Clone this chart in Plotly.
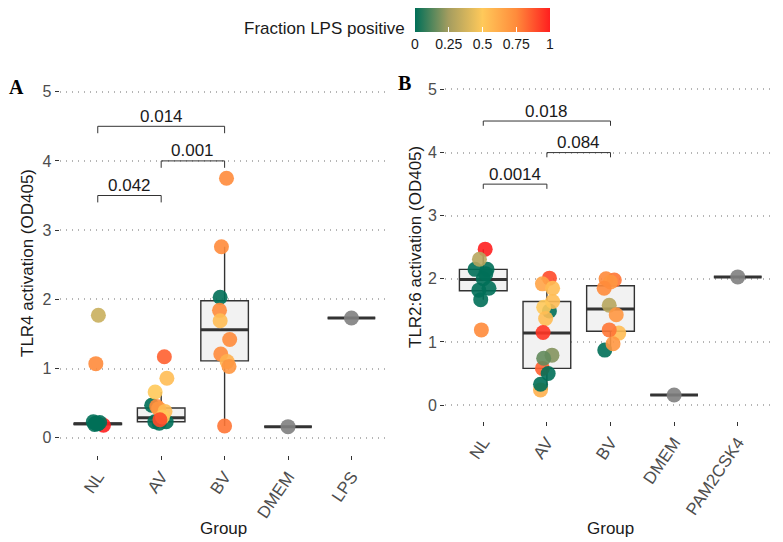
import plotly.graph_objects as go

# categories
groups_a = ["NL", "AV", "BV", "DMEM", "LPS"]
groups_b = ["NL", "AV", "BV", "DMEM", "PAM2CSK4"]

# panel A samples: group index, TLR4 activation, fraction LPS positive, jitter
a_grp = [0, 0, 0, 0, 0, 0, 0, 0,
         1, 1, 1, 1, 1, 1, 1, 1, 1, 1, 1, 1,
         2, 2, 2, 2, 2, 2, 2, 2, 2, 2]
a_val = [1.77, 1.07, 0.18, 0.23, 0.21, 0.20, 0.22, 0.19,
         0.47, 0.23, 0.23, 0.21, 1.17, 0.86, 0.66, 0.45, 0.42, 0.38, 0.30, 0.26,
         0.17, 2.03, 3.75, 2.76, 1.84, 1.69, 1.42, 1.21, 1.10, 1.03]
a_frac = [0.35, 0.75, 1.0, 0.0, 0.0, 0.0, 0.0, 0.0,
          0.0, 0.0, 0.0, 0.0, 0.85, 0.55, 0.5, 0.75, 0.7, 0.55, 0.5, 0.9,
          0.8, 0.0, 0.75, 0.75, 0.75, 0.55, 0.75, 0.75, 0.6, 0.7]
a_jit = [0.01, -0.03, 0.09, -0.07, -0.03, 0.0, 0.03, -0.05,
         -0.15, -0.1, 0.08, -0.03, 0.05, 0.09, -0.095, -0.07, -0.04, 0.06, 0.02, -0.02,
         0.0, -0.07, 0.03, -0.05, -0.08, -0.07, 0.08, -0.06, 0.04, 0.07]
a_ctrl_grp = [3, 4]
a_ctrl_val = [0.16, 1.73]

# panel A box statistics
a_q1 = [0.19, 0.23, 1.11, 0.16, 1.73]
a_med = [0.20, 0.29, 1.56, 0.16, 1.73]
a_q3 = [0.21, 0.43, 1.98, 0.16, 1.73]
a_lo = [0.18, 0.20, 0.17, 0.16, 1.73]
a_hi = [0.23, 0.66, 2.76, 0.16, 1.73]

# panel B samples: group index, TLR2:6 activation, fraction LPS positive, jitter
b_grp = [0, 0, 0, 0, 0, 0, 0, 0, 0, 0,
         1, 1, 1, 1, 1, 1, 1, 1, 1, 1, 1, 1, 1, 1,
         2, 2, 2, 2, 2, 2, 2, 2, 2, 2]
b_val = [2.47, 2.15, 2.15, 2.00, 1.85, 1.82, 1.67, 2.08, 2.31, 1.19,
         0.24, 0.58, 1.49, 2.01, 1.92, 1.85, 1.64, 1.55, 1.37, 1.15, 0.79, 0.74, 0.50, 0.33,
         0.87, 2.00, 1.98, 1.95, 1.85, 1.58, 1.43, 1.14, 1.19, 0.97]
b_frac = [1.0, 0.0, 0.0, 0.0, 0.0, 0.0, 0.0, 0.0, 0.3, 0.75,
          0.6, 0.85, 0.0, 0.9, 0.65, 0.55, 0.55, 0.5, 0.55, 0.95, 0.2, 0.15, 0.0, 0.0,
          0.0, 0.75, 0.8, 0.7, 0.75, 0.3, 0.7, 0.55, 0.8, 0.7]
b_jit = [0.03, -0.13, 0.06, 0.0, 0.09, -0.07, -0.04, 0.04, -0.06, -0.03,
         -0.1, -0.07, 0.04, 0.04, -0.07, 0.09, 0.09, -0.05, -0.02, -0.06, 0.08, -0.05, 0.02, -0.1,
         -0.09, -0.07, 0.06, 0.0, -0.1, -0.02, 0.09, 0.13, -0.02, 0.04]
b_ctrl_grp = [3, 4]
b_ctrl_val = [0.16, 2.03]

# panel B box statistics
b_q1 = [1.81, 0.58, 1.17, 0.16, 2.03]
b_med = [1.99, 1.14, 1.52, 0.16, 2.03]
b_q3 = [2.15, 1.64, 1.89, 0.16, 2.03]
b_lo = [1.67, 0.24, 0.87, 0.16, 2.03]
b_hi = [2.47, 2.01, 2.01, 0.16, 2.03]

# significance brackets
pairs = [(0, 1), (1, 2), (0, 2)]
a_br_y = [3.5, 4.0, 4.5]
a_p = ["0.042", "0.001", "0.014"]
b_br_y = [3.5, 4.0, 4.5]
b_p = ["0.0014", "0.084", "0.018"]

colorscale = [[0.0, "#006F58"], [0.25, "#A59D5F"], [0.5, "#FFC95A"],
              [0.75, "#FF8B3B"], [1.0, "#FF1F1F"]]

DARK = "#333333"
FONT = "Liberation Sans"

# the page body has an 8px margin, so the figure is drawn 8px in from the corner
W, H, OFF = 775, 534, 8


def px(x):
    return (x - OFF) / W


def py(y):
    return 1 - (y - OFF) / H


fig = go.Figure()


def add_panel(xa, ya, grp, val, frac, jit, cgrp, cval, q1, med, q3, lo, hi, br_y, plabels, tip):
    xs = list(range(len(q1)))
    fig.add_trace(go.Box(
        x=xs, q1=q1, median=med, q3=q3, lowerfence=lo, upperfence=hi,
        width=0.75, whiskerwidth=0, fillcolor="#F2F2F2",
        line=dict(color=DARK, width=1.4), xaxis=xa, yaxis=ya, hoverinfo="skip"))
    # thicker median bar like ggplot
    mx, my = [], []
    for i, m in zip(xs, med):
        mx += [i - 0.375, i + 0.375, None]
        my += [m, m, None]
    fig.add_trace(go.Scatter(x=mx, y=my, mode="lines", line=dict(color=DARK, width=3),
                             xaxis=xa, yaxis=ya))
    fig.add_trace(go.Scatter(x=cgrp, y=cval, mode="markers",
                             marker=dict(size=15, color="#7F7F7F", opacity=0.9),
                             xaxis=xa, yaxis=ya))
    fig.add_trace(go.Scatter(
        x=[g + j for g, j in zip(grp, jit)], y=val, mode="markers",
        marker=dict(size=15, color=frac, coloraxis="coloraxis", opacity=0.9),
        xaxis=xa, yaxis=ya))
    for (i, j), y, p in zip(pairs, br_y, plabels):
        fig.add_trace(go.Scatter(x=[i, i, j, j], y=[y - tip, y, y, y - tip], mode="lines",
                                 line=dict(color=DARK, width=1), xaxis=xa, yaxis=ya))
        fig.add_annotation(x=(i + j) / 2, y=y, xref=xa, yref=ya, text=p,
                           showarrow=False, xanchor="center", yanchor="middle", yshift=10,
                           font=dict(family=FONT, size=17, color="#1A1A1A"))


add_panel("x", "y", a_grp, a_val, a_frac, a_jit, a_ctrl_grp, a_ctrl_val,
          a_q1, a_med, a_q3, a_lo, a_hi, a_br_y, a_p, 0.1)
add_panel("x2", "y2", b_grp, b_val, b_frac, b_jit, b_ctrl_grp, b_ctrl_val,
          b_q1, b_med, b_q3, b_lo, b_hi, b_br_y, b_p, 0.075)

xcommon = dict(range=[-0.6, 4.6], tickvals=[0, 1, 2, 3, 4], tickangle=-56,
               ticks="outside", ticklen=4, tickcolor=DARK, showgrid=False,
               zeroline=False, showline=False,
               tickfont=dict(family=FONT, size=17, color="#4D4D4D"))
ycommon = dict(range=[-0.25, 5.25], tickvals=[0, 1, 2, 3, 4, 5], ticks="outside",
               ticklen=4, tickcolor=DARK, showgrid=True, gridcolor="#B5B5B5",
               griddash="1px,5px", gridwidth=1.5, zeroline=False, showline=False,
               tickfont=dict(family=FONT, size=16, color="#4D4D4D"))

fig.update_layout(
    width=W, height=H,
    margin=dict(l=0, r=0, t=0, b=0, autoexpand=False),
    paper_bgcolor="white", plot_bgcolor="white",
    showlegend=False,
    font=dict(family=FONT, color="#1A1A1A"),
    xaxis=dict(domain=[px(59.7), px(389.5)], anchor="y", ticktext=groups_a, **xcommon),
    yaxis=dict(domain=[py(455), py(74.4)], anchor="x", **ycommon),
    xaxis2=dict(domain=[px(445.1), px(775.9)], anchor="y2", ticktext=groups_b, **xcommon),
    yaxis2=dict(domain=[py(420.8), py(73.7)], anchor="x2", **ycommon),
    coloraxis=dict(
        colorscale=colorscale, cmin=0, cmax=1,
        colorbar=dict(
            orientation="h", x=px(482.5), xanchor="center", y=py(8), yanchor="top",
            lenmode="pixels", len=135, thicknessmode="pixels", thickness=24,
            xpad=0, ypad=0, outlinewidth=0,
            tickvals=[0, 0.25, 0.5, 0.75, 1], ticktext=["0", "0.25", "0.5", "0.75", "1"],
            ticks="inside", ticklen=5, tickcolor="white",
            tickfont=dict(family=FONT, size=14, color="#1A1A1A"))),
)

annots = [
    dict(x=px(407), y=py(29), text="Fraction LPS positive", xanchor="right",
         font=dict(family=FONT, size=17, color="#1A1A1A")),
    dict(x=px(28), y=py(263), text="TLR4 activation (OD405)", textangle=-90,
         font=dict(family=FONT, size=17, color="#1A1A1A")),
    dict(x=px(415), y=py(247), text="TLR2:6 activation (OD405)", textangle=-90,
         font=dict(family=FONT, size=17, color="#1A1A1A")),
    dict(x=px(224), y=py(528), text="Group", font=dict(family=FONT, size=17, color="#1A1A1A")),
    dict(x=px(610), y=py(528), text="Group", font=dict(family=FONT, size=17, color="#1A1A1A")),
    dict(x=px(16), y=py(87), text="<b>A</b>",
         font=dict(family="Liberation Serif", size=20, color="black")),
    dict(x=px(405), y=py(83), text="<b>B</b>",
         font=dict(family="Liberation Serif", size=20, color="black")),
]
for a in annots:
    a.setdefault("xanchor", "center")
    fig.add_annotation(xref="paper", yref="paper", showarrow=False, yanchor="middle", **a)

fig.write_html("out.html")
